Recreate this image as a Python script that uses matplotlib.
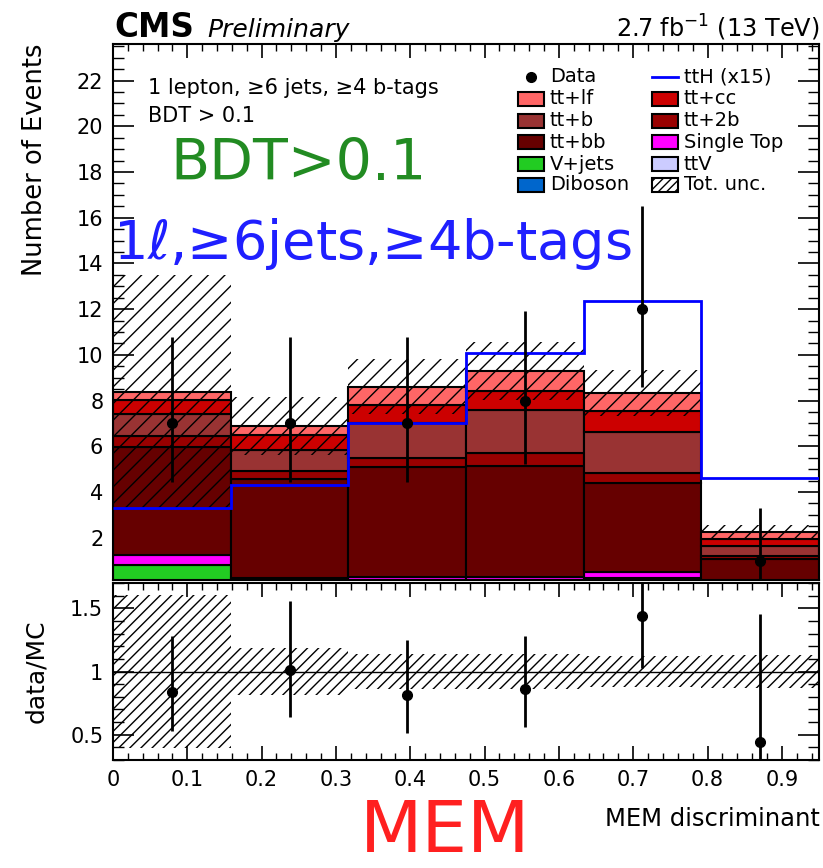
import matplotlib
matplotlib.use('Agg')
import matplotlib.pyplot as plt
import numpy as np
from matplotlib.patches import Rectangle
from matplotlib.lines import Line2D
from matplotlib.ticker import MultipleLocator, FuncFormatter

# bins of the MEM discriminant
binEdges = [0.0, 0.1583, 0.3167, 0.475, 0.6333, 0.7917, 0.95]

# observed data with asymmetric poisson errors
dataCounts = [7, 7, 7, 8, 12, 1]
dataErrLow = [2.58, 2.58, 2.58, 2.76, 3.41, 0.83]
dataErrHigh = [3.77, 3.77, 3.77, 3.94, 4.53, 2.30]

# backgrounds, bottom of the stack first
diboson = [0.01, 0.0, 0.0, 0.0, 0.0, 0.0]
ttV = [0.08, 0.10, 0.10, 0.10, 0.10, 0.02]
vJets = [0.72, 0.05, 0.05, 0.05, 0.12, 0.01]
singleTop = [0.42, 0.10, 0.12, 0.15, 0.26, 0.02]
ttbb = [4.76, 4.33, 4.83, 4.85, 3.92, 1.00]
tt2b = [0.44, 0.32, 0.40, 0.57, 0.45, 0.13]
ttb = [1.00, 0.95, 1.53, 1.88, 1.79, 0.44]
ttcc = [0.58, 0.65, 0.77, 0.83, 0.92, 0.34]
ttlf = [0.38, 0.40, 0.80, 0.87, 0.78, 0.31]

ttH15 = [3.3, 4.3, 7.0, 10.1, 12.36, 4.6]
totUnc = [5.1, 1.27, 1.2, 1.27, 1.0, 0.3]

stackNames = ['Diboson', 'ttV', 'V+jets', 'Single Top', 'tt+bb', 'tt+2b', 'tt+b', 'tt+cc', 'tt+lf']
stackValues = [diboson, ttV, vJets, singleTop, ttbb, tt2b, ttb, ttcc, ttlf]
stackColors = {'Diboson': '#0066cc', 'ttV': '#ccccff', 'V+jets': '#22cc22',
               'Single Top': '#ff00ff', 'tt+bb': '#660000', 'tt+2b': '#990000',
               'tt+b': '#993333', 'tt+cc': '#cc0000', 'tt+lf': '#ff6666'}

W, H = 823, 868
fig = plt.figure(figsize=(W / 100, H / 100), dpi=100)

def figPos(x, y):
    return x / W, 1 - y / H

left, right = 113, 819
axMain = fig.add_axes([left / W, 1 - 580 / H, (right - left) / W, (580 - 44) / H])
axRatio = fig.add_axes([left / W, 1 - 760 / H, (right - left) / W, (760 - 583) / H])

edges = np.array(binEdges)
widths = np.diff(edges)
centers = edges[:-1] + widths / 2

plt.rcParams['hatch.linewidth'] = 1.0

bottom = np.zeros(len(dataCounts))
for name, vals in zip(stackNames, stackValues):
    vals = np.array(vals)
    axMain.bar(edges[:-1], vals, width=widths, bottom=bottom, align='edge',
               color=stackColors[name], edgecolor='black', linewidth=1.5, zorder=2)
    bottom = bottom + vals
total = bottom
unc = np.array(totUnc)

axMain.bar(edges[:-1], 2 * unc, width=widths, bottom=total - unc, align='edge',
           fill=False, hatch='//', edgecolor='black', linewidth=0, zorder=3)
axMain.stairs(ttH15, edges, baseline=None, color='#0000ff', linewidth=2, zorder=4)
axMain.errorbar(centers, dataCounts, yerr=[dataErrLow, dataErrHigh], fmt='o',
                color='black', markersize=7, elinewidth=2, capsize=0, zorder=5)

axMain.set_xlim(0, 0.95)
axMain.set_ylim(0.15, 23.6)
axMain.yaxis.set_major_locator(MultipleLocator(2))
axMain.yaxis.set_minor_locator(MultipleLocator(0.5))
axMain.xaxis.set_major_locator(MultipleLocator(0.1))
axMain.xaxis.set_minor_locator(MultipleLocator(0.02))
axMain.tick_params(axis='x', labelbottom=False)
axMain.set_ylabel('Number of Events', fontsize=18.5, loc='top')

# ratio panel
dataArr = np.array(dataCounts, dtype=float)
ratio = dataArr / total
axRatio.bar(edges[:-1], 2 * unc / total, width=widths, bottom=1 - unc / total, align='edge',
            fill=False, hatch='///', edgecolor='black', linewidth=0, zorder=2)
axRatio.axhline(1, color='black', linewidth=1, zorder=3)
axRatio.errorbar(centers, ratio, yerr=[np.array(dataErrLow) / total, np.array(dataErrHigh) / total],
                 fmt='o', color='black', markersize=7, elinewidth=2, capsize=0, zorder=4)
axRatio.set_xlim(0, 0.95)
axRatio.set_ylim(0.3, 1.7)
axRatio.yaxis.set_major_locator(MultipleLocator(0.5))
axRatio.yaxis.set_minor_locator(MultipleLocator(0.1))
axRatio.xaxis.set_major_locator(MultipleLocator(0.1))
axRatio.xaxis.set_minor_locator(MultipleLocator(0.02))
fmt = FuncFormatter(lambda v, p: '%g' % round(v, 2))
axRatio.xaxis.set_major_formatter(fmt)
axRatio.yaxis.set_major_formatter(fmt)
axRatio.set_ylabel('data/MC', fontsize=18)

for ax in (axMain, axRatio):
    ax.tick_params(which='both', direction='in', top=True, right=True, labelsize=15)
    ax.tick_params(axis='x', which='major', length=10, width=1.2, pad=7)
    ax.tick_params(axis='x', which='minor', length=5, width=1)
    ax.tick_params(axis='y', which='major', length=15, width=1.2, pad=7)
    ax.tick_params(axis='y', which='minor', length=8, width=1)
    for s in ax.spines.values():
        s.set_linewidth(1.5)
axMain.yaxis.set_label_coords(-0.092, 1.0)
axRatio.yaxis.set_label_coords(-0.092, 0.5)

fig.text(*figPos(820, 826), 'MEM discriminant', fontsize=17.5, ha='right', va='baseline')

# header
fig.text(*figPos(114, 37), 'CMS', fontsize=23.5, fontweight='bold', va='baseline')
fig.text(*figPos(207, 37), 'Preliminary', fontsize=18, style='italic', va='baseline')
fig.text(*figPos(820, 37), r'2.7 fb$^{-1}$ (13 TeV)', fontsize=17.3, ha='right', va='baseline')

fig.text(*figPos(148, 94), '1 lepton, ≥6 jets, ≥4 b-tags', fontsize=15, va='baseline')
fig.text(*figPos(148, 122), 'BDT > 0.1', fontsize=15, va='baseline')
fig.text(*figPos(170, 180), 'BDT>0.1', fontsize=41, color='#228b22', va='baseline')
fig.text(*figPos(113, 259), r'1$\ell$,≥6jets,≥4b-tags', fontsize=39, color='#1f1fff', va='baseline')
fig.text(*figPos(360, 867), 'MEM', fontsize=52, color='#ff2020', va='bottom')

# legend
legendRows = [77, 99, 121, 142, 164, 185]
col1 = [('Data', 'data'), ('tt+lf', 'box'), ('tt+b', 'box'), ('tt+bb', 'box'), ('V+jets', 'box'), ('Diboson', 'box')]
col2 = [('ttH (x15)', 'line'), ('tt+cc', 'box'), ('tt+2b', 'box'), ('Single Top', 'box'), ('ttV', 'box'), ('Tot. unc.', 'hatch')]
for colX, textX, entries in ((518, 550, col1), (652, 684, col2)):
    for y, (label, kind) in zip(legendRows, entries):
        if kind == 'box':
            x0, y0 = figPos(colX, y + 7)
            fig.add_artist(Rectangle((x0, y0), 26 / W, 14 / H, facecolor=stackColors[label],
                                     edgecolor='black', linewidth=1.5, transform=fig.transFigure))
        elif kind == 'hatch':
            x0, y0 = figPos(colX, y + 7)
            fig.add_artist(Rectangle((x0, y0), 26 / W, 14 / H, facecolor='white', hatch='////',
                                     edgecolor='black', linewidth=1.5, transform=fig.transFigure))
        elif kind == 'line':
            xa, ya = figPos(colX, y)
            xb, _ = figPos(colX + 26, y)
            fig.add_artist(Line2D([xa, xb], [ya, ya], color='#0000ff', linewidth=2, transform=fig.transFigure))
        else:
            xa, ya = figPos(colX + 13, y)
            fig.add_artist(Line2D([xa], [ya], marker='o', color='black', markersize=7, transform=fig.transFigure))
        fig.text(*figPos(textX, y), label, fontsize=14, va='center')

fig.savefig('out.png', dpi=100)
